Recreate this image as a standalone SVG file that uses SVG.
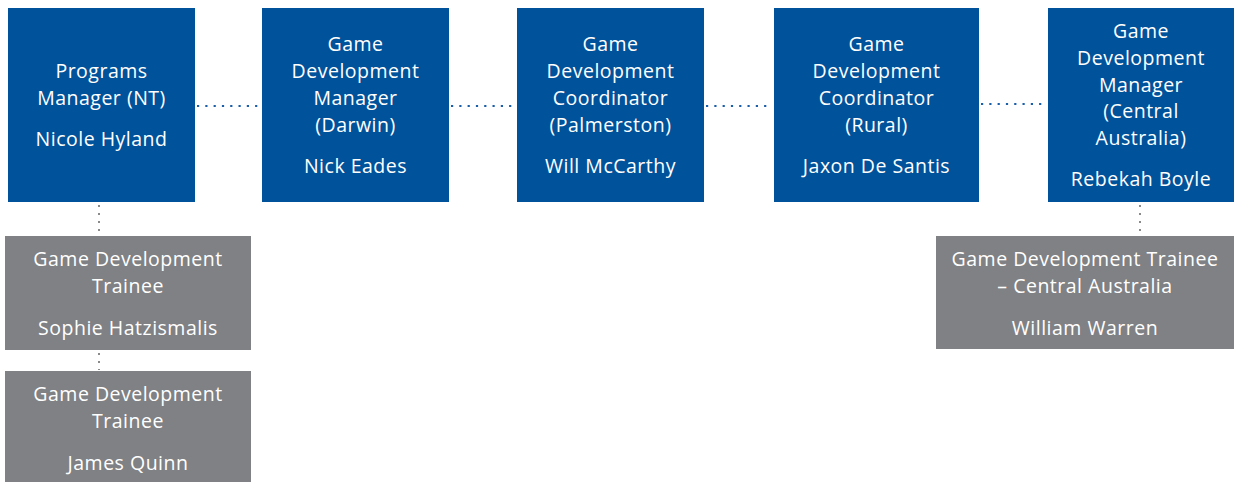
<svg xmlns="http://www.w3.org/2000/svg" width="1234" height="482" viewBox="0 0 1234 482">
<style>
.b{fill:#00529b}
.g{fill:#808184}
text{font-family:"Open Sans","Noto Sans",sans-serif;font-size:19.5px;letter-spacing:0.5px;fill:#ffffff;text-anchor:middle}
.hc{stroke:#1a5ea8;stroke-width:2.2;stroke-dasharray:2.2 6.1;fill:none}
.vc{stroke:#8a8a8c;stroke-width:2;stroke-dasharray:2 6;fill:none}
</style>
<rect width="1234" height="482" fill="#fff"/>
<g id="connectors">
<line class="hc" x1="197" y1="106" x2="260" y2="106"/>
<line class="hc" x1="451" y1="106" x2="515" y2="106"/>
<line class="hc" x1="706" y1="106" x2="772" y2="106"/>
<line class="hc" x1="981" y1="104" x2="1046" y2="104"/>
<line class="vc" x1="99" y1="205" x2="99" y2="235"/>
<line class="vc" x1="99" y1="353" x2="99" y2="370"/>
<line class="vc" x1="1140" y1="205" x2="1140" y2="235"/>
</g>
<g id="n1"><rect class="b" x="8" y="8" width="187" height="194"/>
<text x="101.5" y="78">Programs</text><text x="101.5" y="105">Manager (NT)</text><text x="101.5" y="146">Nicole Hyland</text></g>
<g id="n2"><rect class="b" x="262" y="8" width="187" height="194"/>
<text x="355.5" y="51">Game</text><text x="355.5" y="78">Development</text><text x="355.5" y="105">Manager</text><text x="355.5" y="132">(Darwin)</text><text x="355.5" y="173">Nick Eades</text></g>
<g id="n3"><rect class="b" x="517" y="8" width="187" height="194"/>
<text x="610.5" y="51">Game</text><text x="610.5" y="78">Development</text><text x="610.5" y="105">Coordinator</text><text x="610.5" y="132">(Palmerston)</text><text x="610.5" y="173">Will McCarthy</text></g>
<g id="n4"><rect class="b" x="774" y="8" width="205" height="194"/>
<text x="876.5" y="51">Game</text><text x="876.5" y="78">Development</text><text x="876.5" y="105">Coordinator</text><text x="876.5" y="132">(Rural)</text><text x="876.5" y="173">Jaxon De Santis</text></g>
<g id="n5"><rect class="b" x="1048" y="8" width="186" height="194"/>
<text x="1141" y="38">Game</text><text x="1141" y="65">Development</text><text x="1141" y="92">Manager</text><text x="1141" y="118">(Central</text><text x="1141" y="145">Australia)</text><text x="1141" y="186">Rebekah Boyle</text></g>
<g id="n6"><rect class="g" x="5" y="236" width="246" height="114"/>
<text x="128" y="266">Game Development</text><text x="128" y="293">Trainee</text><text x="128" y="335">Sophie Hatzismalis</text></g>
<g id="n7"><rect class="g" x="5" y="371" width="246" height="111"/>
<text x="128" y="401">Game Development</text><text x="128" y="428">Trainee</text><text x="128" y="470">James Quinn</text></g>
<g id="n8"><rect class="g" x="936" y="236" width="298" height="113"/>
<text x="1085" y="266">Game Development Trainee</text><text x="1085" y="293">– Central Australia</text><text x="1085" y="335">William Warren</text></g>
</svg>
